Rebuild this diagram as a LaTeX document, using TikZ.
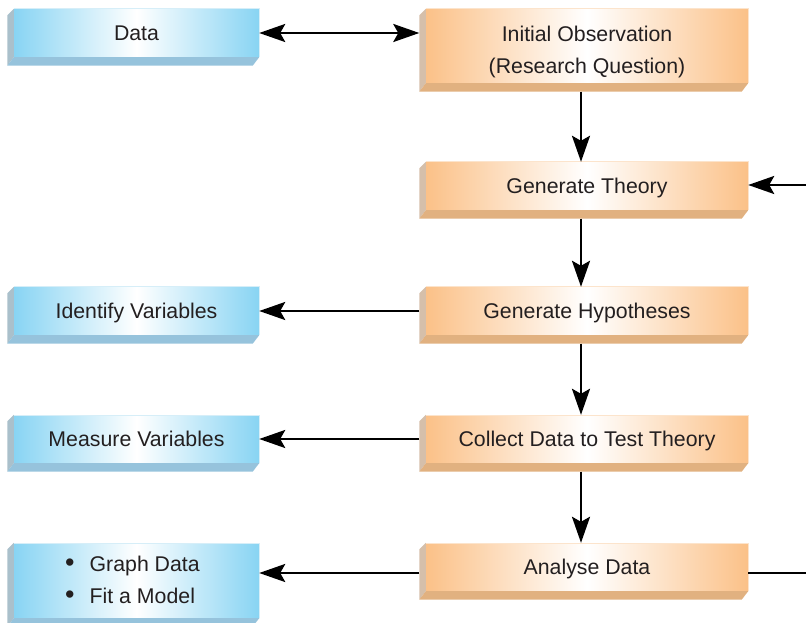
\documentclass[tikz,border=0pt]{standalone}
\usepackage{fontspec}
\setmainfont{Liberation Sans}
\usetikzlibrary{arrows.meta,calc}
\definecolor{orE}{RGB}{251,193,136}
\definecolor{orL}{RGB}{213,191,170}
\definecolor{orB}{RGB}{225,177,128}
\definecolor{orT}{RGB}{252,228,204}
\definecolor{blE}{RGB}{136,212,243}
\definecolor{blL}{RGB}{170,192,203}
\definecolor{blB}{RGB}{150,195,220}
\definecolor{blT}{RGB}{214,238,248}
\definecolor{txt}{RGB}{35,31,32}
\newcommand\bevelbox[4]{%
  \fill[#2] (#1.north west) -- ++(-6.5,-6.5) -- ($(#1.south west)+(-6.5,-8.5)$) -- (#1.south west) -- cycle;
  \fill[#3] (#1.south west) -- (#1.south east) -- ++(-6.5,-8.5) -- ($(#1.south west)+(-6.5,-8.5)$) -- cycle;
  \draw[#4, line width=0.6pt] (#1.north west) -- (#1.north east) -- (#1.south east);}
\begin{document}
\begin{tikzpicture}[x=1pt,y=1pt,
  lbl/.style={inner sep=0pt, text=txt, font=\fontsize{21.3}{32}\selectfont},
  box/.style={rectangle, lbl, align=center, text height=20pt, text depth=4.5pt},
  obox/.style={box, minimum width=322pt, minimum height=48pt, left color=orE, right color=orE, middle color=white},
  bbox/.style={box, minimum width=245pt, minimum height=48pt, left color=blE, right color=blE, middle color=white},
  arr/.style={line width=2.6pt, -{Stealth[length=26pt,width=18pt,inset=5pt]}},
  darr/.style={line width=2.6pt, {Stealth[length=26pt,width=18pt,inset=5pt]}-{Stealth[length=26pt,width=18pt,inset=5pt]}},
  plain/.style={line width=2.6pt}
]
\useasboundingbox (0,0) rectangle (806,622);
% orange column
\node[obox, minimum height=74pt] (io) at (587,576) {};
\node[lbl, align=center] (iotext) at ([yshift=-6pt]io.center) {Initial Observation\\(Research Question)};
\node[obox] (gt) at (587,436) {Generate Theory};
\node[obox] (gh) at (587,311) {Generate Hypotheses};
\node[obox] (cd) at (587,183) {Collect Data to Test Theory};
\node[obox] (ad) at (587,55) {Analyse Data};
% blue column
\node[bbox] (data) at (136.5,589) {Data};
\node[bbox] (iv) at (136.5,311) {Identify Variables};
\node[bbox] (mv) at (136.5,183) {Measure Variables};
\node[bbox, minimum height=75pt] (gd) at (136.5,41.5) {};
\node[lbl, align=left, anchor=west] (gdtext) at (65,42)
  {{\fontsize{27}{32}\selectfont\textbullet}\hspace{15pt}Graph Data\\{\fontsize{27}{32}\selectfont\textbullet}\hspace{15pt}Fit a Model};
% bevels
\bevelbox{io}{orL}{orB}{orT}
\bevelbox{gt}{orL}{orB}{orT}
\bevelbox{gh}{orL}{orB}{orT}
\bevelbox{cd}{orL}{orB}{orT}
\bevelbox{ad}{orL}{orB}{orT}
\bevelbox{data}{blL}{blB}{blT}
\bevelbox{iv}{blL}{blB}{blT}
\bevelbox{mv}{blL}{blB}{blT}
\bevelbox{gd}{blL}{blB}{blT}
% connectors
\coordinate (iow) at ([xshift=-6.5pt]io.west);
\draw[darr] (data.east) -- (iow |- data.east);
\draw[arr] ([xshift=-6pt,yshift=-8.5pt]io.south) -- ([xshift=-6pt]gt.north);
\draw[arr] ([xshift=-6pt,yshift=-8.5pt]gt.south) -- ([xshift=-6pt]gh.north);
\draw[arr] ([xshift=-6pt,yshift=-8.5pt]gh.south) -- ([xshift=-6pt]cd.north);
\draw[arr] ([xshift=-6pt,yshift=-8.5pt]cd.south) -- ([xshift=-6pt]ad.north);
\draw[arr] ([xshift=-6.5pt]gh.west) -- (iv.east);
\draw[arr] ([xshift=-6.5pt]cd.west) -- (mv.east);
\coordinate (adw) at ([xshift=-6.5pt,yshift=-6pt]ad.west);
\draw[arr] (adw) -- (adw -| gd.east);
\coordinate (rin) at (806,437);
\draw[arr] (rin) -- (rin -| gt.east);
\coordinate (rout) at (806,49);
\draw[plain] (rout -| ad.east) -- (rout);
\end{tikzpicture}
\end{document}
